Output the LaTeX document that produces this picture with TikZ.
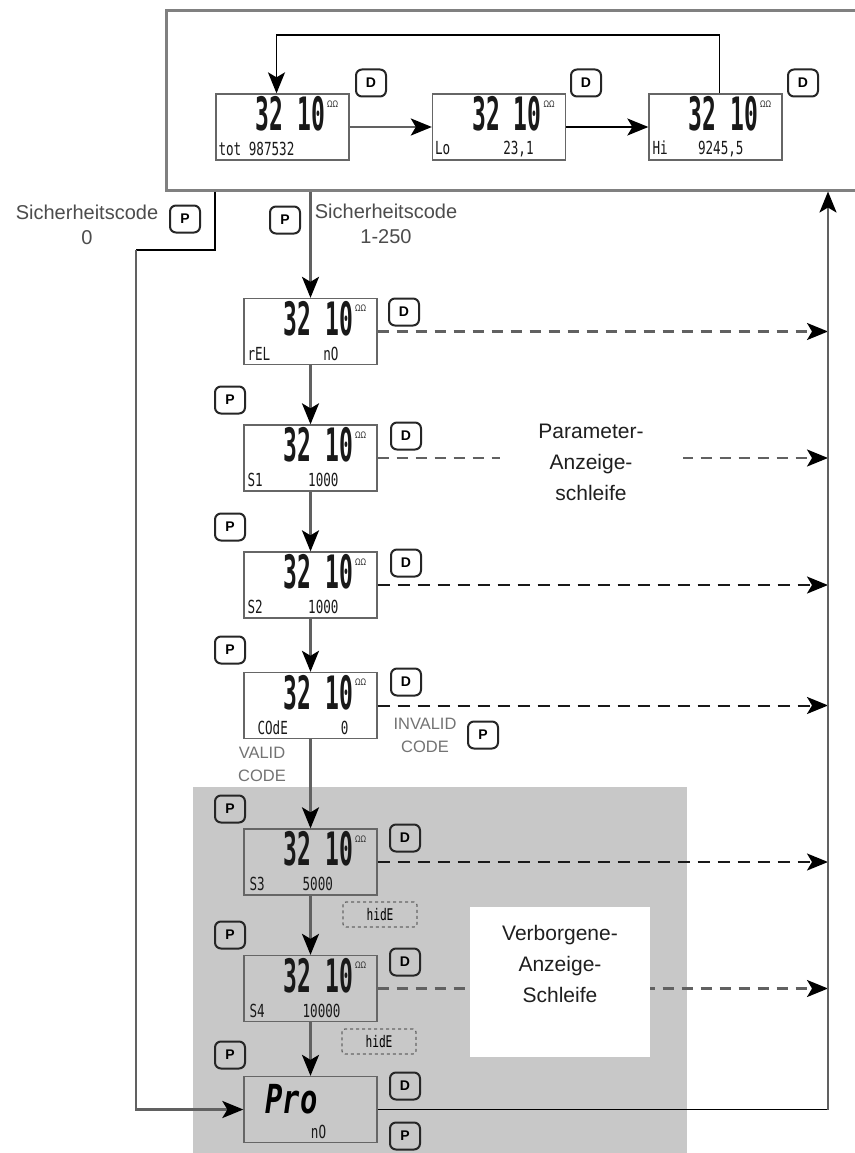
\documentclass[tikz,border=0pt]{standalone}
\usepackage{fontspec}
\setmainfont{Liberation Sans}
\newfontfamily\segfont{DejaVu Sans Mono}
\newfontfamily\symfont{DejaVu Sans}
\usetikzlibrary{arrows.meta,calc}
\definecolor{dotgray}{RGB}{200,200,200}

\tikzset{
  arr/.tip={Stealth[length=21pt,width=17pt,inset=5pt,color=black]},
  lcdbox/.style={draw=black!60, line width=1.3pt, minimum width=133pt, minimum height=66pt, inner sep=0pt},
  bigdig/.style={inner sep=0pt, font=\segfont\bfseries\fontsize{46}{46}\selectfont, text=black!90},
  ohm/.style={inner sep=0pt, font=\symfont\fontsize{9}{9}\selectfont, text=black!80},
  lowtxt/.style={inner sep=0pt, font=\segfont\fontsize{18}{18}\selectfont, text=black!90},
  btn/.style={draw=black!85, line width=2pt, rounded corners=6pt, minimum width=30pt, minimum height=27pt, inner sep=0pt, font=\fontsize{14}{14}\selectfont\bfseries},
  frame/.style={draw=black!50, line width=3pt, minimum width=704pt, minimum height=179pt, inner sep=0pt},
  gcon/.style={draw=black!62, line width=2.5pt},
  sol/.style={draw=black, line width=1.8pt},
  dgray/.style={draw=black!62, line width=2.2pt, dash pattern=on 11pt off 8pt},
  dblack/.style={draw=black!90, line width=2pt, dash pattern=on 12pt off 8pt},
  hidbox/.style={draw=black!60, line width=1.2pt, dashed, rounded corners=3pt, minimum width=74pt, minimum height=25pt, inner sep=0pt, font=\segfont\fontsize{16}{16}\selectfont},
  lbl/.style={align=center, inner sep=0pt, font=\fontsize{20}{25}\selectfont, text=black!70},
  big/.style={align=center, inner sep=0pt, font=\fontsize{21}{31}\selectfont, text=black!88},
  small/.style={align=center, inner sep=0pt, font=\fontsize{16.5}{23}\selectfont, text=black!55}
}

\newcommand\lcdunit[4]{%
  \node[lcdbox] (#1) at (#2) {};
  \node[bigdig] (#1-d) at ($(#1.center)+(8,-13)$) {\scalebox{0.5}[1]{32~10}};
  \node[ohm] (#1-o) at ($(#1.center)+(50,-23)$) {\scalebox{0.8}[1]{ΩΩ}};
  \node[lowtxt,anchor=west] (#1-t) at ($(#1.west)+(#4,22)$) {\scalebox{0.7}[1]{#3}};
}

\begin{document}
\begin{tikzpicture}[x=1pt,y=-1pt]
\useasboundingbox (0,0) rectangle (854,1153);
\fill[white] (0,0) rectangle (854,1153);

% hidden area background
\fill[dotgray] (193,787) rectangle (687,1153);

% top frame
\node[frame] (frame) at (518,100.5) {};

% top displays
\lcdunit{d1}{282.5,127}{tot~987532}{3}
\lcdunit{d2}{499,127}{Lo~~~~~~~23,1}{3}
\lcdunit{d3}{715.5,127}{Hi~~~~9245,5}{4}

\node[btn] (bd1) at (371,83) {D};
\node[btn] (bd2) at (586,83) {D};
\node[btn] (bd3) at (803,83) {D};

% column displays
\lcdunit{rel}{310.5,331.5}{rEL~~~~~~~nO}{4}
\lcdunit{s1}{310.5,458}{S1~~~~~~1000}{4}
\lcdunit{s2}{310.5,585}{S2~~~~~~1000}{4}
\lcdunit{code}{310.5,705.5}{COdE~~~~~~~0}{14}
\lcdunit{s3}{310.5,862}{S3~~~~~5000}{6}
\lcdunit{s4}{310.5,988.5}{S4~~~~~10000}{6}

\node[lcdbox] (pro) at (310.5,1109.5) {};
\node[inner sep=0pt, font=\segfont\bfseries\itshape\fontsize{40}{40}\selectfont] (pro-d) at ($(pro.center)+(-19,-10)$) {\scalebox{0.72}[1]{Pro}};
\node[lowtxt] (pro-t) at ($(pro.center)+(8,22)$) {\scalebox{0.7}[1]{nO}};

% buttons
\node[btn] (pl) at (185,219) {P};
\node[btn] (pm) at (285,220) {P};
\node[btn] (brel) at (404,312) {D};
\node[btn] (p1) at (230,400) {P};
\node[btn] (bs1) at (406,436) {D};
\node[btn] (p2) at (230,527) {P};
\node[btn] (bs2) at (406,563) {D};
\node[btn] (p3) at (230,650) {P};
\node[btn] (bcode) at (406,682) {D};
\node[btn] (pinv) at (483,735) {P};
\node[btn] (p4) at (230,809) {P};
\node[btn] (bs3) at (405,838) {D};
\node[btn] (p5) at (230,935) {P};
\node[btn] (bs4) at (405,962) {D};
\node[btn] (p6) at (230,1055) {P};
\node[btn] (bpro) at (405,1086) {D};
\node[btn] (ppro) at (405,1136) {P};

% hide boxes
\node[hidbox] (hid1) at (380,914.5) {\scalebox{0.7}[1]{hidE}};
\node[hidbox] (hid2) at (379,1041.5) {\scalebox{0.7}[1]{hidE}};

% labels
\node[lbl] (sc0) at (87,224.5) {Sicherheitscode\\0};
\node[lbl] (sc1) at (386,224) {Sicherheitscode\\1-250};
\node[small] (valid) at (262,764.5) {VALID\\CODE};
\node[small] (invalid) at (425,735.5) {INVALID\\CODE};

\coordinate (rx) at (828,0);

% dashed arrows
\draw[dgray,-{arr}] (rel.east) -- (rel.east -| rx);
\draw[dgray,-{arr}] (s1.east) -- (s1.east -| rx);
\draw[dblack,-{arr}] (s2.east) -- (s2.east -| rx);
\draw[dblack,-{arr}] (code.east) -- (code.east -| rx);
\draw[dblack,-{arr}] (s3.east) -- (s3.east -| rx);
\draw[dgray,-{arr}] (s4.east) -- (s4.east -| rx);

% text boxes over dashed lines
\node[big, fill=white, minimum width=183pt, minimum height=90pt] (partxt) at (591,462) {Parameter-\\Anzeige-\\schleife};
\node[fill=white, minimum width=180pt, minimum height=150pt, inner sep=0pt] (hidbg) at (560,982) {};
\node[big] (hidtxt) at (560,964) {Verborgene-\\Anzeige-\\Schleife};

% top loop
\draw[gcon,-{arr}] (d1.east) -- (d2.west);
\draw[sol,-{arr}] (d2.east) -- (d3.west);
\draw[sol,-{arr}] ($(d3.north)+(4,0)$) -- ++(0,-58) -| ($(d1.north)+(-6,0)$);

% main column
\draw[gcon,-{arr}] (frame.south -| rel.north) -- (rel.north);
\draw[gcon,-{arr}] (rel.south) -- (s1.north);
\draw[gcon,-{arr}] (s1.south) -- (s2.north);
\draw[gcon,-{arr}] (s2.south) -- (code.north);
\draw[gcon,-{arr}] (code.south) -- (s3.north);
\draw[gcon,-{arr}] (s3.south) -- (s4.north);
\draw[gcon,-{arr}] (s4.south) -- (pro.north);

% left path (code 0)
\coordinate (lA) at (215,250);
\coordinate (lB) at (136,250);
\draw[sol] (frame.south -| lA) -- (lA) -- (lB);
\draw[gcon,-{arr}] (lB) |- (pro.west);

% return path
\draw[sol] (pro.east) -- (pro.east -| rx);
\draw[gcon,-{arr}] (pro.east -| rx) -- (frame.south -| rx);
\end{tikzpicture}
\end{document}
